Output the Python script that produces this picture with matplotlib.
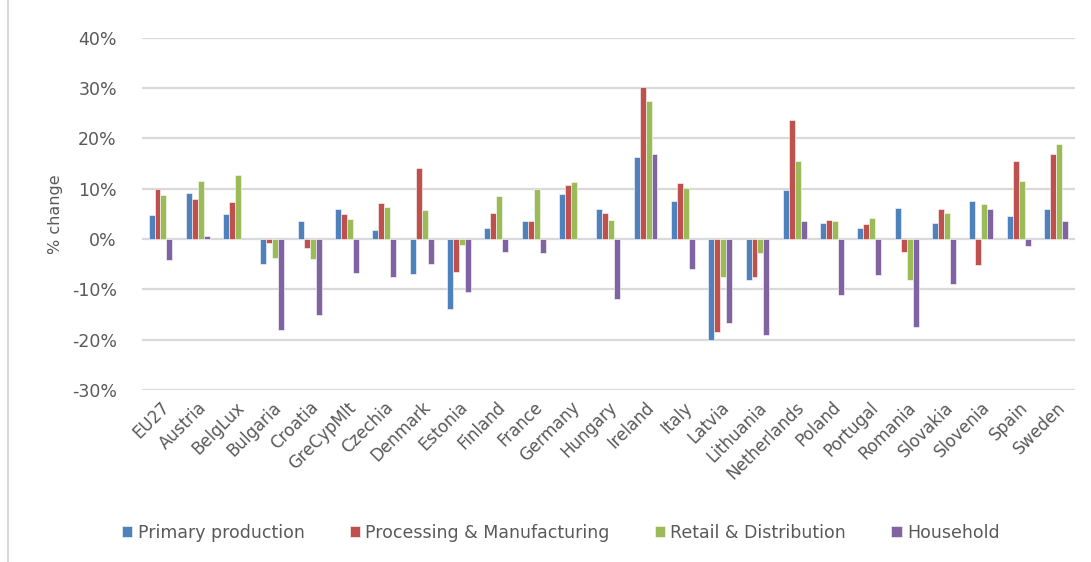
import matplotlib.pyplot as plt
import numpy as np
from matplotlib.lines import Line2D

countries = ["EU27", "Austria", "BelgLux", "Bulgaria", "Croatia", "GreCypMlt", "Czechia",
             "Denmark", "Estonia", "Finland", "France", "Germany", "Hungary", "Ireland",
             "Italy", "Latvia", "Lithuania", "Netherlands", "Poland", "Portugal", "Romania",
             "Slovakia", "Slovenia", "Spain", "Sweden"]

primary = [4.7, 9.1, 5.0, -4.9, 3.5, 5.9, 1.7, -7.0, -14.0, 2.1, 3.5, 8.9, 5.9, 16.2,
           7.5, -20.1, -8.1, 9.7, 3.1, 2.2, 6.1, 3.1, 7.5, 4.5, 5.9]
processing = [9.9, 8.0, 7.3, -0.7, -1.7, 5.0, 7.1, 14.1, -6.5, 5.2, 3.5, 10.8, 5.2, 30.2,
              11.1, -18.5, -7.5, 23.7, 3.8, 2.9, -2.5, 5.9, -5.2, 15.5, 16.9]
retail = [8.7, 11.5, 12.7, -3.8, -4.0, 4.0, 6.3, 5.7, -1.2, 8.5, 9.9, 11.3, 3.7, 27.4,
          10.1, -7.5, -2.8, 15.5, 3.5, 4.1, -8.1, 5.2, 6.9, 11.5, 18.9]
household = [-4.1, 0.5, 0.3, -18.0, -15.0, -6.8, -7.5, -5.0, -10.5, -2.6, -2.8, 0.3, -12.0, 16.9,
             -5.9, -16.6, -19.1, 3.5, -11.2, -7.2, -17.5, -8.9, 5.9, -1.4, 3.5]

series = [("Primary production", primary, "#4F81BD"),
          ("Processing & Manufacturing", processing, "#C0504D"),
          ("Retail & Distribution", retail, "#9BBB59"),
          ("Household", household, "#8064A2")]

txt = "#595959"
fig = plt.figure(figsize=(10.91, 5.62), dpi=100)
ax = fig.add_axes([0.130, 0.306, 0.855, 0.627])

x = np.arange(len(countries))
w = 0.16
for i, (name, vals, col) in enumerate(series):
    ax.bar(x + (i - 1.5) * w, vals, w, color=col, edgecolor="white", linewidth=0.4,
           label=name, zorder=3)

ax.set_xlim(-0.5, len(countries) - 0.5)
ax.set_ylim(-30, 40)
ax.set_yticks(np.arange(-30, 41, 10))
ax.set_yticklabels([f"{v}%" for v in range(-30, 41, 10)], fontsize=12.5, color=txt)
ax.yaxis.grid(True, color="#D9D9D9", linewidth=1.6, zorder=0)
ax.set_axisbelow(True)
ax.tick_params(length=0)
ax.tick_params(axis="y", pad=18)
for s in ax.spines.values():
    s.set_visible(False)

ax.set_xticks(x)
ax.set_xticklabels(countries, rotation=45, ha="right", rotation_mode="anchor",
                   fontsize=12, color=txt)
ax.tick_params(axis="x", pad=6)
ax.set_ylabel("% change", fontsize=11.5, color=txt, labelpad=6)

fig.legend(loc="center", bbox_to_anchor=(0.514, 0.052), ncol=4, frameon=False,
           fontsize=12.5, labelcolor=txt, handlelength=0.6, handleheight=0.6,
           handletextpad=0.3, columnspacing=2.6)

fig.add_artist(Line2D([8 / 1091, 8 / 1091], [0, 1], color="#D9D9D9", linewidth=1.5))

plt.savefig("out.png", dpi=100)
